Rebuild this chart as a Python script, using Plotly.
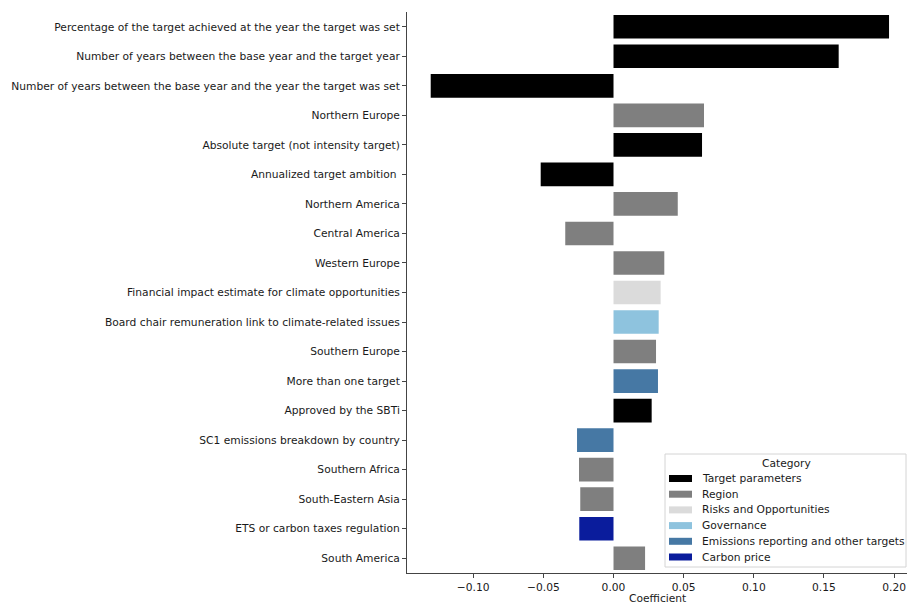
import plotly.graph_objects as go

features = [
    "Percentage of the target achieved at the year the target was set",
    "Number of years between the base year and the target year",
    "Number of years between the base year and the year the target was set",
    "Northern Europe",
    "Absolute target (not intensity target)",
    "Annualized target ambition ",
    "Northern America",
    "Central America",
    "Western Europe",
    "Financial impact estimate for climate opportunities",
    "Board chair remuneration link to climate-related issues",
    "Southern Europe",
    "More than one target",
    "Approved by the SBTi",
    "SC1 emissions breakdown by country",
    "Southern Africa",
    "South-Eastern Asia",
    "ETS or carbon taxes regulation",
    "South America",
]
coefficients = [
    0.1964, 0.1605, -0.1303, 0.0645, 0.0631, -0.0519, 0.0458, -0.0344,
    0.0362, 0.0336, 0.0322, 0.0303, 0.0317, 0.0272, -0.0260, -0.0246,
    -0.0237, -0.0244, 0.0225,
]
feature_category = [
    "Target parameters", "Target parameters", "Target parameters", "Region",
    "Target parameters", "Target parameters", "Region", "Region", "Region",
    "Risks and Opportunities", "Governance", "Region",
    "Emissions reporting and other targets", "Target parameters",
    "Emissions reporting and other targets", "Region", "Region",
    "Carbon price", "Region",
]
categories = [
    "Target parameters", "Region", "Risks and Opportunities", "Governance",
    "Emissions reporting and other targets", "Carbon price",
]
category_colors = ["#000000", "#7f7f7f", "#dbdbdb", "#8ec3de", "#4678a4", "#0a1c9c"]
x_ticks = [-0.10, -0.05, 0.00, 0.05, 0.10, 0.15, 0.20]

FONT = "DejaVu Sans"
TXT = "#1a1a1a"
W, H = 907, 604
ML, MR, MT, MB = 407, 0, 12, 31
PW, PH = W - ML - MR, H - MT - MB


def px(xp):
    return (xp - ML) / PW


def py(yp):
    return (H - MB - yp) / PH


fig = go.Figure()

color_of = dict(zip(categories, category_colors))
for cat in categories:
    ys = [f for f, c in zip(features, feature_category) if c == cat]
    xs = [v for v, c in zip(coefficients, feature_category) if c == cat]
    fig.add_trace(go.Bar(
        x=xs, y=ys, orientation="h", width=0.8,
        marker=dict(color=color_of[cat], line=dict(width=0)),
        showlegend=False, name=cat,
    ))

fig.update_layout(
    width=W, height=H,
    margin=dict(l=ML, r=MR, t=MT, b=MB, autoexpand=False),
    paper_bgcolor="white", plot_bgcolor="white",
    barmode="overlay",
    font=dict(family=FONT, size=10.7, color=TXT),
    showlegend=False,
)
fig.update_xaxes(
    range=[-0.1472, 0.2092], tickvals=x_ticks,
    ticktext=[f"{t:.2f}".replace("-", "\u2212") for t in x_ticks],
    showline=True, linecolor="#444444", linewidth=1,
    ticks="outside", ticklen=4, tickcolor="#444444",
    showgrid=False, zeroline=False, fixedrange=True, automargin=False,
)
fig.update_yaxes(
    type="category", categoryorder="array", categoryarray=features,
    range=[len(features) - 0.5, -0.5],
    showline=True, linecolor="#444444", linewidth=1,
    ticks="outside", ticklen=4, tickcolor="#444444",
    showgrid=False, zeroline=False, fixedrange=True, automargin=False,
)
fig.add_annotation(
    text="Coefficient", xref="paper", yref="paper",
    x=0.5, y=py(598), yanchor="middle", showarrow=False,
    font=dict(family=FONT, size=10.7, color=TXT),
)

# Manual legend (matplotlib-style compact legend box)
box_l, box_r, box_t, box_b = 665, 906, 454, 567
fig.add_shape(type="rect", xref="paper", yref="paper",
              x0=px(box_l), x1=px(box_r), y0=py(box_b), y1=py(box_t),
              fillcolor="white", line=dict(color="#d4d4d4", width=1), layer="above")
fig.add_annotation(text="Category", xref="paper", yref="paper",
                   x=px(786), y=py(463), xanchor="center", yanchor="middle",
                   showarrow=False, font=dict(family=FONT, size=10.7, color=TXT))
row_y0, row_dy = 478.5, 15.7
for i, cat in enumerate(categories):
    yc = row_y0 + i * row_dy
    fig.add_shape(type="rect", xref="paper", yref="paper",
                  x0=px(669), x1=px(692), y0=py(yc + 3.5), y1=py(yc - 3.5),
                  fillcolor=color_of[cat], line=dict(width=0), layer="above")
    fig.add_annotation(text=cat, xref="paper", yref="paper",
                       x=px(700), y=py(yc), xanchor="left", yanchor="middle",
                       showarrow=False,
                       font=dict(family=FONT, size=10.7, color=TXT))

fig.write_html("out.html")
